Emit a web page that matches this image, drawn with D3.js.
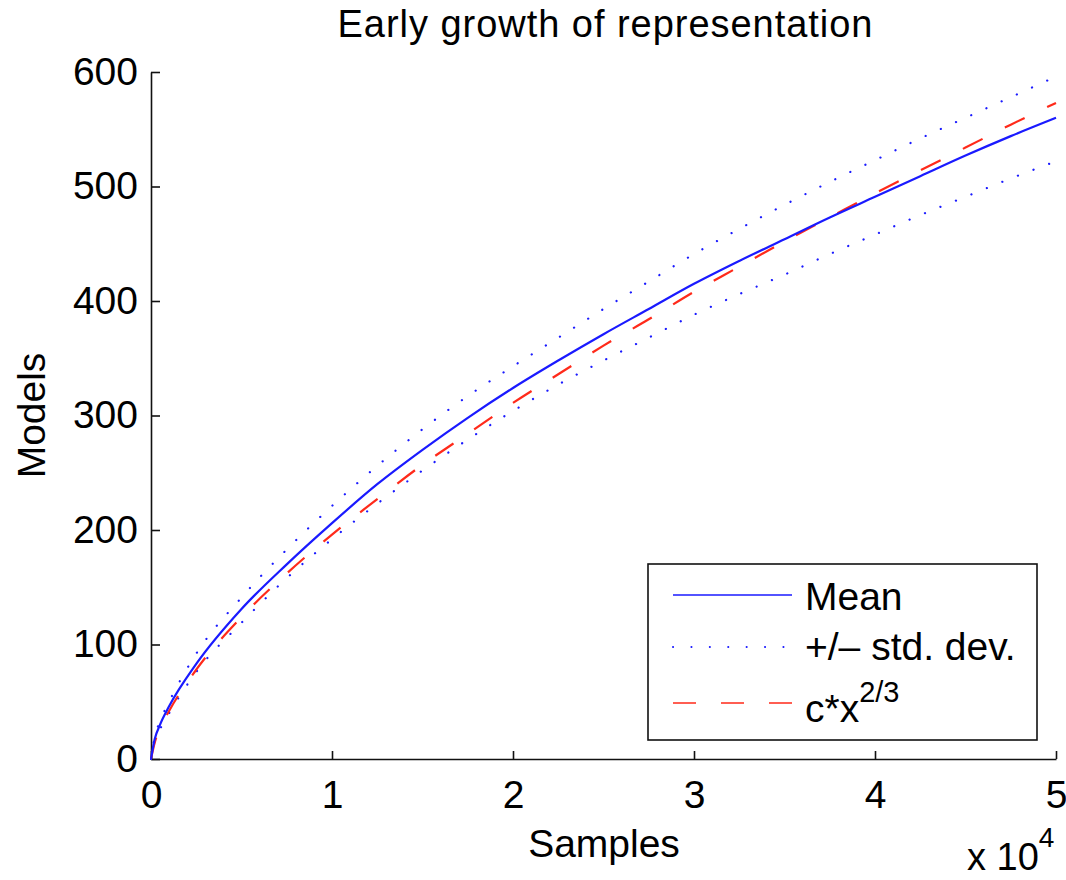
<!DOCTYPE html>
<html>
<head>
<meta charset="utf-8">
<script src="https://cdn.jsdelivr.net/npm/d3@7"></script>
<style>
  html, body { margin: 0; padding: 0; background: #fff; }
  svg { display: block; }
  text { font-family: "Liberation Sans", Arial, Helvetica, sans-serif; fill: #000; }
</style>
</head>
<body>
<svg id="chart" width="1066" height="880"></svg>
<script>
// ---- data (x in samples) ----
const samples = [0, 200, 500, 1000, 2500, 5000, 7500, 10000, 12500, 15000, 17500, 20000,
                 22500, 25000, 27500, 30000, 32500, 35000, 37500, 40000, 42500, 45000, 47500, 50000];
const meanModels = [0, 17, 30, 46, 83, 131, 170, 206, 240, 270, 298, 324,
                    348, 371, 393, 415, 435, 454, 473, 491, 509, 527, 544, 560];
const upperModels = [0, 19, 33, 50, 92, 141, 183, 221, 256, 288, 317, 343,
                     368, 393, 417, 441, 463, 484, 504, 523, 542, 560, 578, 596];
const lowerModels = [0, 15, 26, 40, 76, 119, 158, 192, 223, 252, 279, 304,
                     327, 348, 368, 388, 406, 423, 441, 458, 475, 491, 507, 522];
const fitModels = [0, 14, 27, 42, 78, 124, 162, 196, 227, 257, 284, 311,
                   336, 361, 384, 408, 430, 452, 473, 494, 514, 534, 554, 573];
const xTicks = [0, 10000, 20000, 30000, 40000, 50000];
const yTicks = [0, 100, 200, 300, 400, 500, 600];
const legendLabels = ["Mean", "+/\u2013 std. dev.", "c*x"];

// ---- layout ----
const svg = d3.select("#chart");
const x = d3.scaleLinear().domain([0, 50000]).range([151, 1056]);
const y = d3.scaleLinear().domain([0, 600]).range([759, 72]);

const BLUE = "#1a1aff", RED = "#ff2a1a";

// axes
const yAxis = d3.axisLeft(y).tickValues(yTicks).tickSizeInner(-9).tickSizeOuter(0).tickPadding(13);
const xAxis = d3.axisBottom(x).tickValues(xTicks).tickSizeInner(-8).tickSizeOuter(0).tickPadding(21)
                .tickFormat(d => d / 10000);

const gy = svg.append("g").attr("transform", "translate(151,0)").call(yAxis);
const gx = svg.append("g").attr("transform", "translate(0,759)").call(xAxis);
[gx, gy].forEach(g => {
  g.selectAll("path.domain").attr("stroke", "#111").attr("stroke-width", 1.6);
  g.selectAll(".tick line").attr("stroke", "#111").attr("stroke-width", 1.6);
  g.selectAll(".tick text").attr("font-size", 39)
    .attr("font-family", '"Liberation Sans", Arial, sans-serif').attr("fill", "#000");
});

// lines
const line = d3.line().x((d, i) => x(samples[i])).y(d => y(d)).curve(d3.curveMonotoneX);

svg.append("path").datum(upperModels).attr("d", line)
  .attr("fill", "none").attr("stroke", BLUE).attr("stroke-width", 2.2)
  .attr("stroke-linecap", "round").attr("stroke-dasharray", "0.1,16.6");
svg.append("path").datum(lowerModels).attr("d", line)
  .attr("fill", "none").attr("stroke", BLUE).attr("stroke-width", 2.2)
  .attr("stroke-linecap", "round").attr("stroke-dasharray", "0.1,16.6");
svg.append("path").datum(fitModels).attr("d", line)
  .attr("fill", "none").attr("stroke", RED).attr("stroke-width", 2.2)
  .attr("stroke-dasharray", "22,25");
svg.append("path").datum(meanModels).attr("d", line)
  .attr("fill", "none").attr("stroke", BLUE).attr("stroke-width", 2.2);

// title and axis labels
svg.append("text").attr("x", 605).attr("y", 37).attr("text-anchor", "middle")
  .attr("font-size", 38).attr("textLength", 535).attr("lengthAdjust", "spacing")
  .text("Early growth of representation");
svg.append("text").attr("x", 604).attr("y", 857).attr("text-anchor", "middle")
  .attr("font-size", 39).text("Samples");
svg.append("text").attr("transform", "translate(45,415.5) rotate(-90)").attr("text-anchor", "middle")
  .attr("font-size", 39).text("Models");
const mult = svg.append("text").attr("x", 967).attr("y", 870).attr("font-size", 38);
mult.append("tspan").text("x 10");
mult.append("tspan").attr("font-size", 28).attr("dy", -23).text("4");

// legend
const lg = svg.append("g");
lg.append("rect").attr("x", 648).attr("y", 564).attr("width", 389).attr("height", 176)
  .attr("fill", "#fff").attr("stroke", "#111").attr("stroke-width", 1.6);
const rows = [
  { y: 595, base: 610, stroke: BLUE, dash: null, cap: "butt" },
  { y: 647, base: 660, stroke: BLUE, dash: "0.1,18.3", cap: "round" },
  { y: 703, base: 722, stroke: RED, dash: "23,25", cap: "butt" }
];
rows.forEach((r, i) => {
  lg.append("line").attr("x1", 673).attr("x2", 792).attr("y1", r.y).attr("y2", r.y)
    .attr("stroke", r.stroke).attr("stroke-width", r.cap === "round" ? 2 : 1.5)
    .attr("stroke-linecap", r.cap).attr("stroke-dasharray", r.dash);
  const t = lg.append("text").attr("x", 805).attr("y", r.base).attr("font-size", 39);
  t.append("tspan").text(legendLabels[i]);
  if (i === 2) t.append("tspan").attr("font-size", 29).attr("dy", -20).text("2/3");
});
</script>
</body>
</html>
